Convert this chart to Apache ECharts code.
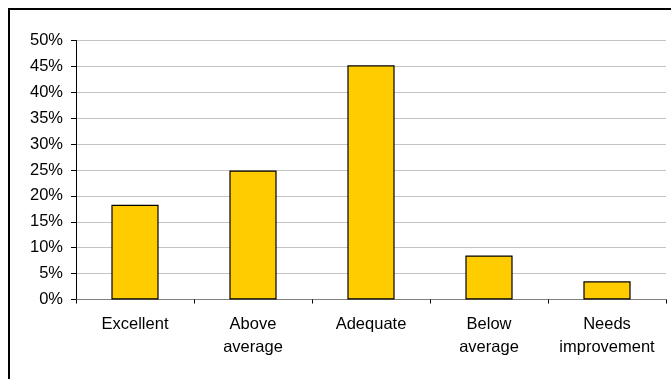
<!DOCTYPE html>
<html>
<head>
<meta charset="utf-8">
<script src="https://cdn.jsdelivr.net/npm/echarts@6/dist/echarts.min.js"></script>
<style>
  html, body { margin: 0; padding: 0; background: #fff; }
  #chart { width: 671px; height: 379px; }
</style>
</head>
<body>
<div id="chart"></div>
<script>
// Survey ratings: share of respondents per category (percent)
const categories = ['Excellent', 'Above\naverage', 'Adequate', 'Below\naverage', 'Needs\nimprovement'];
const shares = [18.3, 24.9, 45.2, 8.5, 3.5];
const yTicks = { min: 0, max: 50, step: 5 };

const FONT = 'Liberation Sans, Arial, sans-serif';

const chart = echarts.init(document.getElementById('chart'), null, { renderer: 'canvas' });
chart.setOption({
  animation: false,
  backgroundColor: '#ffffff',
  graphic: [{
    type: 'rect',
    shape: { x: 9, y: 9, width: 720, height: 420 },
    style: { fill: 'none', stroke: '#000', lineWidth: 2 },
    silent: true,
    z: 0
  }],
  grid: { left: 76, top: 40.5, right: 5, bottom: 79.5, containLabel: false },
  xAxis: {
    type: 'category',
    data: categories,
    axisLine: { show: true, lineStyle: { color: '#808080', width: 1 } },
    axisTick: { show: true, length: 4, lineStyle: { color: '#000', width: 1 } },
    axisLabel: {
      color: '#000', fontFamily: FONT, fontSize: 16.5, lineHeight: 23, margin: 13, interval: 0
    },
    splitLine: { show: false }
  },
  yAxis: {
    type: 'value',
    min: yTicks.min,
    max: yTicks.max,
    interval: yTicks.step,
    axisLine: { show: true, lineStyle: { color: '#000', width: 1 } },
    axisTick: { show: true, length: 5, lineStyle: { color: '#000', width: 1 } },
    axisLabel: {
      color: '#000', fontFamily: FONT, fontSize: 16.5, margin: 13,
      formatter: '{value}%'
    },
    splitLine: { show: true, lineStyle: { color: '#c4c4c4', width: 1 } }
  },
  series: [{
    type: 'bar',
    data: shares,
    barCategoryGap: '60%',
    itemStyle: { color: '#FFCC00', borderColor: '#000', borderWidth: 1.2 }
  }]
});
</script>
</body>
</html>
